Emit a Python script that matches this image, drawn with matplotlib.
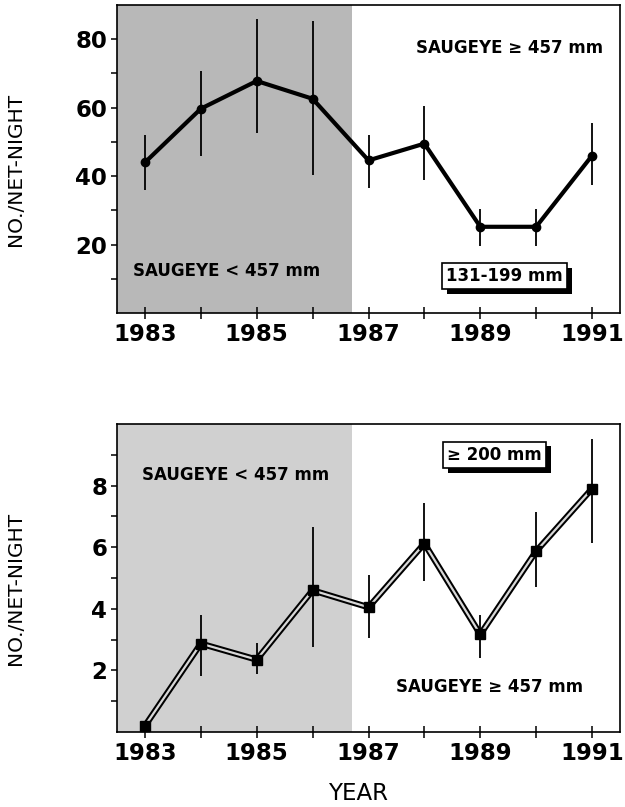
import numpy as np
import matplotlib
matplotlib.use('Agg')
import matplotlib.pyplot as plt
import matplotlib.patheffects as pe

years = [1983, 1984, 1985, 1986, 1987, 1988, 1989, 1990, 1991]

# 131-199 mm
small_mean = [44, 59.7, 67.8, 62.6, 44.6, 49.5, 25.2, 25.2, 46]
small_low = [36, 46, 52.5, 40.3, 36.5, 38.8, 19.7, 19.7, 37.4]
small_high = [51.9, 70.7, 85.8, 85.2, 51.9, 60.6, 30.4, 30.4, 55.4]

# >= 200 mm
large_mean = [0.2, 2.87, 2.35, 4.6, 4.05, 6.12, 3.17, 5.87, 7.9]
large_low = [0.2, 1.83, 1.9, 2.75, 3.05, 4.9, 2.4, 4.7, 6.15]
large_high = [0.2, 3.8, 2.9, 6.65, 5.1, 7.45, 3.8, 7.15, 9.5]

shade_end = 1986.71

plt.rcParams['font.family'] = ['DejaVu Sans']

fig = plt.figure(figsize=(6.25, 8.07), dpi=100)
ax1 = fig.add_axes([0.1872, 0.6121, 0.8048, 0.3817])
ax2 = fig.add_axes([0.1872, 0.0929, 0.8048, 0.3817])


def style_axis(ax, ylim, major, minor):
    ax.set_xlim(1982.5, 1991.5)
    ax.set_ylim(*ylim)
    ax.set_xticks(years)
    ax.set_xticklabels([str(y) if y % 2 == 1 else '' for y in years])
    ax.set_yticks(major)
    ax.set_yticks(minor, minor=True)
    ax.tick_params(axis='x', direction='inout', length=9, width=1.1, pad=3,
                   labelsize=16.5)
    ax.tick_params(axis='y', which='both', direction='out', length=4, width=1.1,
                   pad=3, labelsize=16.5)
    for lab in ax.get_xticklabels() + ax.get_yticklabels():
        lab.set_fontweight('bold')
    for sp in ax.spines.values():
        sp.set_linewidth(1.2)
    ax.set_ylabel('NO./NET-NIGHT', fontsize=14.5)
    ax.yaxis.set_label_coords(-0.183, 0.465)


def shadow_box(ax, x, y, txt):
    t = ax.text(x, y, txt, fontsize=12, fontweight='bold', ha='center',
                va='center', transform=ax.transAxes,
                bbox=dict(boxstyle='square,pad=0.25', fc='white', ec='black', lw=1.2))
    t.get_bbox_patch().set_path_effects([
        pe.SimplePatchShadow(offset=(3.5, -3.5), shadow_rgbFace='black', alpha=1),
        pe.Normal()])


# top panel
ax1.axvspan(1982.5, shade_end, color='#b8b8b8', zorder=0, lw=0)
ax1.vlines(years, small_low, small_high, color='black', lw=1.3, zorder=2)
ax1.plot(years, small_mean, color='black', lw=3, marker='o', ms=6, zorder=3)
style_axis(ax1, (0, 90), [20, 40, 60, 80], [10, 30, 50, 70])
ax1.text(0.78, 0.86, 'SAUGEYE \u2265 457 mm', transform=ax1.transAxes,
         fontsize=12, fontweight='bold', ha='center', va='center')
ax1.text(0.217, 0.135, 'SAUGEYE < 457 mm', transform=ax1.transAxes,
         fontsize=12, fontweight='bold', ha='center', va='center')
shadow_box(ax1, 0.77, 0.12, '131-199 mm')

# bottom panel
ax2.axvspan(1982.5, shade_end, color='#d0d0d0', zorder=0, lw=0)
ax2.vlines(years[1:], large_low[1:], large_high[1:], color='black', lw=1.3, zorder=2)
ax2.plot(years, large_mean, color='black', lw=4.5, zorder=3,
         solid_joinstyle='miter')
ax2.plot(years, large_mean, color='#d8d8d8', lw=1.6, zorder=4)
ax2.plot(years, large_mean, ls='none', marker='s', ms=7, color='black', zorder=5)
style_axis(ax2, (0, 10), [2, 4, 6, 8], [1, 3, 5, 7, 9])
ax2.text(0.235, 0.835, 'SAUGEYE < 457 mm', transform=ax2.transAxes,
         fontsize=12, fontweight='bold', ha='center', va='center')
ax2.text(0.74, 0.145, 'SAUGEYE \u2265 457 mm', transform=ax2.transAxes,
         fontsize=12, fontweight='bold', ha='center', va='center')
shadow_box(ax2, 0.75, 0.9, '\u2265 200 mm')
ax2.set_xlabel('YEAR', fontsize=16.5)
ax2.xaxis.set_label_coords(0.48, -0.163)

fig.savefig('out.png', dpi=100)
